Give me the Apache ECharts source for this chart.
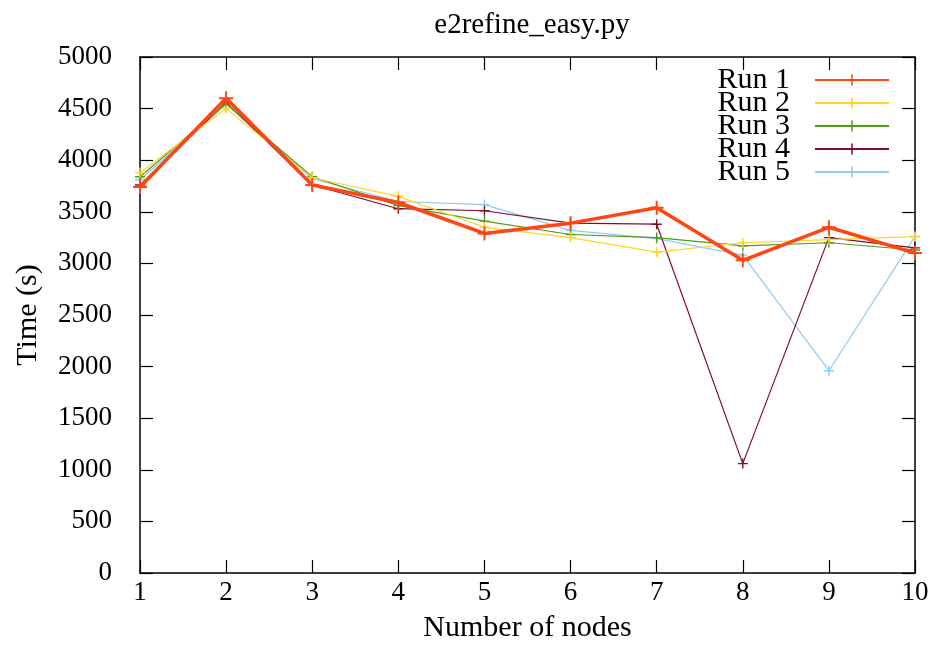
<!DOCTYPE html>
<html lang="en">
<head>
    <meta charset="UTF-8">
    <title>e2refine_easy.py</title>
    <style>
        html, body { margin: 0; padding: 0; background: #fff; }
        #main { width: 935px; height: 645px; }
    </style>
    <script src="https://cdn.jsdelivr.net/npm/echarts@6/dist/echarts.min.js"></script>
</head>
<body>
    <div id="main"></div>
    <script>
        // number of nodes on the x axis
        var nodes = [1, 2, 3, 4, 5, 6, 7, 8, 9, 10];
        var runNames = ['Run 1', 'Run 2', 'Run 3', 'Run 4', 'Run 5'];
        // times in seconds
        var run1 = [3740, 4600, 3760, 3590, 3290, 3390, 3540, 3030, 3350, 3100];
        var run2 = [3880, 4500, 3830, 3650, 3350, 3250, 3110, 3200, 3230, 3260];
        var run3 = [3840, 4550, 3840, 3560, 3410, 3280, 3250, 3170, 3200, 3130];
        var run4 = [3760, 4560, 3760, 3530, 3510, 3390, 3380, 1060, 3250, 3150];
        var run5 = [3810, 4540, 3820, 3600, 3570, 3320, 3240, 3080, 1960, 3260];
        var runs = [run1, run2, run3, run4, run5];

        var colors = ['#ff4513', '#ffd32a', '#4f9d12', '#7d0f2c', '#8ccbf5'];
        var widths = [3.5, 1.2, 1.2, 1.2, 1.2];
        var sizes = [14, 10, 10, 10, 10];

        var font = 'Liberation Serif';
        var plus = 'path://M4.3,0H5.7V4.3H10V5.7H5.7V10H4.3V5.7H0V4.3H4.3Z';

        var series = [];
        for (var i = 0; i < runs.length; i++) {
            var pts = [];
            for (var j = 0; j < nodes.length; j++) {
                pts.push([nodes[j], runs[i][j]]);
            }
            series.push({
                name: runNames[i],
                type: 'line',
                data: pts,
                symbol: plus,
                symbolSize: sizes[i],
                z: 10 - i,
                lineStyle: { color: colors[i], width: widths[i] },
                itemStyle: { color: colors[i] },
                emphasis: { disabled: true }
            });
        }

        var tickStyle = { show: true, inside: true, length: 13, lineStyle: { color: '#000', width: 1.2 } };
        var lineStyle = { show: true, onZero: false, lineStyle: { color: '#000', width: 1.5 } };

        var myChart = echarts.init(document.getElementById('main'));
        myChart.setOption({
            animation: false,
            color: colors,
            title: {
                text: 'e2refine_easy.py',
                left: 527, top: 6, textAlign: 'center',
                textStyle: { fontFamily: font, fontSize: 29, fontWeight: 'normal', color: '#000' }
            },
            legend: {
                right: 40, top: 60, orient: 'vertical', align: 'right',
                itemWidth: 74, itemHeight: 14, itemGap: -7,
                textStyle: { fontFamily: font, fontSize: 30, color: '#000', padding: [0, 20, 0, 0] },
                data: runNames
            },
            grid: { left: 140, right: 20, top: 57, bottom: 72, outerBoundsMode: 'none' },
            xAxis: [{
                type: 'value', min: 1, max: 10, interval: 1,
                name: 'Number of nodes', nameLocation: 'middle', nameGap: 40,
                nameTextStyle: { fontFamily: font, fontSize: 30, color: '#000' },
                axisLine: lineStyle, axisTick: tickStyle,
                axisLabel: { fontFamily: font, fontSize: 27, color: '#000', margin: 6 },
                splitLine: { show: false }
            }, {
                type: 'value', min: 1, max: 10, interval: 1, position: 'top',
                axisLine: lineStyle, axisTick: tickStyle,
                axisLabel: { show: false }, splitLine: { show: false }
            }],
            yAxis: [{
                type: 'value', min: 0, max: 5000, interval: 500,
                name: 'Time (s)', nameLocation: 'middle', nameGap: 97, nameRotate: 90,
                nameTextStyle: { fontFamily: font, fontSize: 30, color: '#000' },
                axisLine: lineStyle, axisTick: tickStyle,
                axisLabel: { fontFamily: font, fontSize: 27, color: '#000', margin: 28,
                    formatter: function (v) { return String(v); } },
                splitLine: { show: false }
            }, {
                type: 'value', min: 0, max: 5000, interval: 500, position: 'right',
                axisLine: lineStyle, axisTick: tickStyle,
                axisLabel: { show: false }, splitLine: { show: false }
            }],
            series: series
        });
    </script>
</body>
</html>
